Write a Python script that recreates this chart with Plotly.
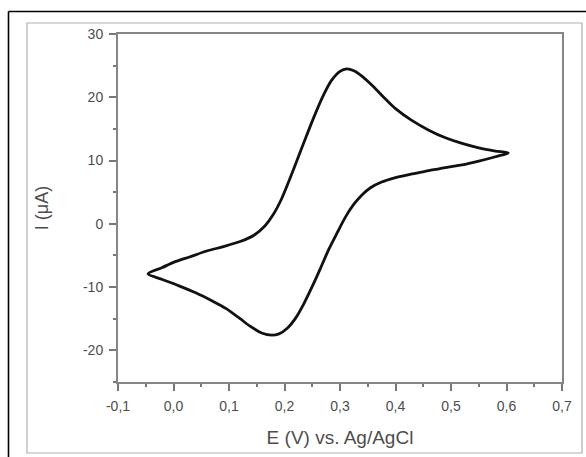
import plotly.graph_objects as go

# Forward (anodic) scan, left vertex -> right vertex
fwd_E = [-0.046, -0.02, 0.0, 0.03, 0.06, 0.09, 0.12, 0.145, 0.165, 0.18, 0.195, 0.21, 0.225,
         0.24, 0.255, 0.27, 0.285, 0.30, 0.312, 0.325, 0.34, 0.36, 0.38, 0.40, 0.43, 0.46,
         0.49, 0.52, 0.55, 0.58, 0.603]
fwd_I = [-7.9, -6.9, -6.1, -5.2, -4.3, -3.6, -2.8, -1.8, -0.3, 1.5, 4.0, 7.2, 10.6,
         14.0, 17.3, 20.3, 22.7, 24.1, 24.5, 24.2, 23.3, 21.7, 19.9, 18.2, 16.3, 14.8,
         13.6, 12.7, 12.0, 11.5, 11.2]
# Reverse (cathodic) scan, right vertex -> left vertex
rev_E = [0.603, 0.58, 0.55, 0.52, 0.49, 0.46, 0.43, 0.40, 0.375, 0.355, 0.34, 0.325, 0.31,
         0.295, 0.28, 0.265, 0.25, 0.235, 0.22, 0.205, 0.19, 0.177, 0.16, 0.14, 0.12, 0.095,
         0.07, 0.04, 0.01, -0.02, -0.046]
rev_I = [11.2, 10.6, 9.9, 9.3, 8.9, 8.4, 7.9, 7.3, 6.6, 5.7, 4.6, 3.1, 1.1,
         -1.4, -4.0, -7.0, -9.9, -12.6, -14.9, -16.5, -17.4, -17.6, -17.3, -16.3, -15.0, -13.4,
         -12.2, -10.9, -9.8, -8.8, -7.9]

x_tickvals = [-0.1, 0.0, 0.1, 0.2, 0.3, 0.4, 0.5, 0.6, 0.7]
x_ticktext = ["-0,1", "0,0", "0,1", "0,2", "0,3", "0,4", "0,5", "0,6", "0,7"]
x_minor = [-0.05, 0.05, 0.15, 0.25, 0.35, 0.45, 0.55, 0.65]
y_tickvals = [-20, -10, 0, 10, 20, 30]
y_ticktext = ["-20", "-10", "0", "10", "20", "30"]
y_minor = [-25, -15, -5, 5, 15, 25]

W, H = 586, 457
L, R, T, B = 118, 562, 34, 382

def px(xp):
    return (xp - L) / (R - L)

def py(yp):
    return (B - yp) / (B - T)

fig = go.Figure()
fig.add_trace(go.Scatter(x=fwd_E + rev_E[1:], y=fwd_I + rev_I[1:], mode="lines",
                         line=dict(color="#111111", width=2.8, shape="spline", smoothing=0.8),
                         hoverinfo="skip", showlegend=False))

axis_common = dict(showline=True, linecolor="#858585", linewidth=2, mirror=True,
                   showgrid=False, zeroline=False, ticks="outside", ticklen=7,
                   tickwidth=1.5, tickcolor="#777777", ticklabelstandoff=3,
                   tickfont=dict(family="Liberation Sans, Arial", size=14, color="#4d4d4d"))

fig.update_xaxes(range=[-0.1, 0.7], tickmode="array", tickvals=x_tickvals, ticktext=x_ticktext,
                 minor=dict(tickmode="array", tickvals=x_minor, ticks="outside", ticklen=3,
                            tickcolor="#777777", tickwidth=1.5),
                 title=dict(text="E (V) vs. Ag/AgCl", standoff=18,
                            font=dict(family="Liberation Sans, Arial", size=19, color="#4d4d4d")),
                 **axis_common)
fig.update_yaxes(range=[-25, 30], tickmode="array", tickvals=y_tickvals, ticktext=y_ticktext,
                 minor=dict(tickmode="array", tickvals=y_minor, ticks="outside", ticklen=3,
                            tickcolor="#777777", tickwidth=1.5),
                 title=dict(text="I (μA)", standoff=30,
                            font=dict(family="Liberation Sans, Arial", size=18, color="#4d4d4d")),
                 **axis_common)

shapes = [
    # inner gray frame
    dict(type="rect", xref="paper", yref="paper", x0=px(27), x1=px(582), y0=py(453), y1=py(23),
         line=dict(color="#b0b0b0", width=1.2), fillcolor="rgba(0,0,0,0)", layer="below"),
    # outer black border (left and top visible)
    dict(type="line", xref="paper", yref="paper", x0=px(8.5), x1=px(8.5), y0=py(11.5), y1=py(470),
         line=dict(color="#000000", width=1.6)),
    dict(type="line", xref="paper", yref="paper", x0=px(8.5), x1=px(600), y0=py(11.5), y1=py(11.5),
         line=dict(color="#000000", width=1.6)),
]

fig.update_layout(width=W, height=H, margin=dict(l=L, r=W - R, t=T, b=H - B),
                  paper_bgcolor="white", plot_bgcolor="white", shapes=shapes,
                  showlegend=False)

fig.write_html("out.html")
